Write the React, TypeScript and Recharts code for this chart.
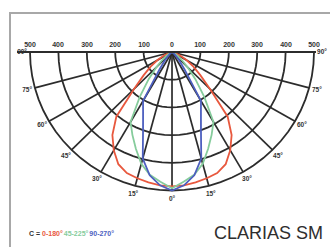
import React from 'react';
import { LineChart, Line, XAxis, YAxis, ReferenceDot } from 'recharts';

// Photometric polar diagram (cd/1000lm) — gamma angles 0..90°, symmetric halves
const ANGLES = [0, 5, 10, 15, 20, 25, 30, 35, 40, 45, 50, 55, 60, 65, 70, 75, 80, 85, 90];
const C0_180 = [485, 483, 478, 472, 465, 447, 410, 366, 305, 190, 130, 92, 60, 33, 14, 4, 0, 0, 0];
const C45_225 = [492, 470, 450, 418, 372, 330, 292, 198, 128, 78, 45, 25, 12, 5, 2, 0, 0, 0, 0];
const C90_270 = [500, 483, 452, 398, 298, 241, 204, 77, 38, 15, 4, 0, 0, 0, 0, 0, 0, 0, 0];

const SERIES_NAMES = ['0-180°', '45-225°', '90-270°'];
const SERIES_COLORS = ['#e8583e', '#86cc9c', '#4d5fbf'];
const SERIES_VALUES = [C0_180, C45_225, C90_270];

const RING_VALUES = [100, 200, 300, 400, 500];
const RING_TICKS = [-500, -400, -300, -200, -100, 0, 100, 200, 300, 400, 500];
const SPOKE_ANGLES = [-75, -60, -45, -30, -15, 0, 15, 30, 45, 60, 75];
const LABEL_ANGLES = [-90, -75, -60, -45, -30, -15, 0, 15, 30, 45, 60, 75, 90];
const LEGEND_PREFIX = 'C = ';
const TITLE = 'CLARIAS SM';

const MAX_R = 500;
const LABEL_R = 528;
const GRID_STEP = 5;

const rad = (d: number) => (d * Math.PI) / 180;
const toXY = (deg: number, r: number) => ({ x: r * Math.sin(rad(deg)), y: -r * Math.cos(rad(deg)) });

function curve(values: number[]) {
  const pts: { x: number; y: number }[] = [];
  for (let i = ANGLES.length - 1; i >= 0; i--) pts.push(toXY(-ANGLES[i], values[i]));
  for (let i = 1; i < ANGLES.length; i++) pts.push(toXY(ANGLES[i], values[i]));
  return pts;
}

function arc(r: number) {
  const pts: { x: number; y: number }[] = [];
  for (let a = -90; a <= 90; a += GRID_STEP) pts.push(toXY(a, r));
  return pts;
}

const GRID = '#2c2c2c';
const FONT = 'Liberation Sans, Arial, sans-serif';

const RingTick = (props: any) => {
  const { x, y, payload } = props;
  const tx = Math.round(x);
  const ty = Math.round(y);
  return (
    <text
      x={tx}
      y={ty}
      transform={`rotate(0.01 ${tx} ${ty})`}
      textAnchor="middle"
      fontSize={7}
      fontWeight={700}
      fill="#333333"
      fontFamily={FONT}
    >
      {String(Math.abs(payload.value))}
    </text>
  );
};

export default function App() {
  return (
    <div style={{ position: 'absolute', left: 0, top: 0, width: 330, height: 247, background: '#fff', overflow: 'hidden' }}>
      <div
        style={{
          position: 'absolute',
          left: 9,
          top: 12,
          width: 330,
          height: 247,
          borderTop: '2px solid #a8a8a8',
          borderLeft: '2px solid #a8a8a8',
        }}
      />
      <div style={{ position: 'absolute', left: 0, top: 0 }}>
        <LineChart width={330} height={247} margin={{ top: 40, right: 14, bottom: 0, left: 17 }}>
          <XAxis
            type="number"
            dataKey="x"
            orientation="top"
            height={12}
            domain={[-545.8, 507]}
            ticks={RING_TICKS}
            interval={0}
            axisLine={{ stroke: GRID, strokeWidth: 2.2 }}
            tickLine={false}
            tickSize={0}
            tickMargin={5}
            tick={<RingTick />}
          />
          <YAxis type="number" dataKey="y" domain={[-704, 0]} hide />
          {RING_VALUES.map((r) => (
            <Line
              key={`ring-${r}`}
              data={arc(r)}
              dataKey="y"
              type="linear"
              stroke={GRID}
              strokeWidth={1.8}
              dot={false}
              activeDot={false}
              legendType="none"
              isAnimationActive={false}
            />
          ))}
          {SPOKE_ANGLES.map((a) => (
            <Line
              key={`spoke-${a}`}
              data={[toXY(a, 0), toXY(a, MAX_R)]}
              dataKey="y"
              type="linear"
              stroke={GRID}
              strokeWidth={1.7}
              dot={false}
              activeDot={false}
              legendType="none"
              isAnimationActive={false}
            />
          ))}
          {SERIES_VALUES.map((vals, i) => (
            <Line
              key={`series-${i}`}
              name={SERIES_NAMES[i]}
              data={curve(vals)}
              dataKey="y"
              type="linear"
              stroke={SERIES_COLORS[i]}
              strokeWidth={1.8}
              dot={false}
              activeDot={false}
              isAnimationActive={false}
            />
          ))}
          {LABEL_ANGLES.map((a) => {
            const p = toXY(a, LABEL_R);
            return (
              <ReferenceDot
                key={`lab-${a}`}
                x={p.x}
                y={p.y}
                r={0}
                fill="none"
                stroke="none"
                ifOverflow="visible"
                label={{
                  value: `${Math.abs(a)}°`,
                  position: 'center',
                  fontSize: 6.5,
                  fontWeight: 700,
                  fill: '#333',
                  fontFamily: FONT,
                }}
              />
            );
          })}
        </LineChart>
      </div>
      <div
        style={{
          position: 'absolute',
          left: 29,
          top: 230,
          fontSize: 7,
          lineHeight: 1,
          fontWeight: 700,
          fontFamily: FONT,
          whiteSpace: 'nowrap',
          color: '#333',
        }}
      >
        <span>{LEGEND_PREFIX}</span>
        {SERIES_NAMES.map((n, i) => (
          <span key={n} style={{ color: SERIES_COLORS[i], marginRight: 1 }}>
            {n}
          </span>
        ))}
      </div>
      <div
        style={{
          position: 'absolute',
          left: 214,
          top: 224,
          fontSize: 18,
          lineHeight: 1,
          fontFamily: FONT,
          color: '#2e2e2e',
          whiteSpace: 'nowrap',
        }}
      >
        {TITLE}
      </div>
    </div>
  );
}
